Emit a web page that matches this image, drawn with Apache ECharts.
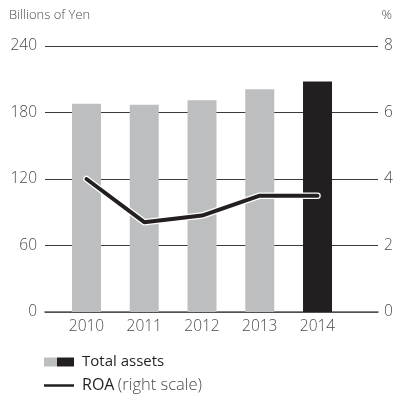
<!DOCTYPE html>
<html>
<head>
<meta charset="utf-8">
<script src="https://cdn.jsdelivr.net/npm/echarts@6/dist/echarts.min.js"></script>
<style>
  html, body { margin: 0; padding: 0; background: #fff; }
  #chart { width: 397px; height: 394px; }
</style>
</head>
<body>
<div id="chart"></div>
<script>
// Fiscal years on the category axis
const years = ['2010', '2011', '2012', '2013', '2014'];
// Total assets, billions of yen (left scale)
const totalAssets = [188, 187, 191, 201, 208];
// Return on assets, % (right scale)
const roa = [4.0, 2.7, 2.9, 3.5, 3.5];
// Axis ranges and tick steps
const leftTicks = [0, 60, 120, 180, 240];
const rightTicks = [0, 2, 4, 6, 8];

const GRAY = '#bcbec0';
const DARK = '#231f20';
const TEXT = '#4a4a4a';
const FONT = '"Open Sans", "Noto Sans", sans-serif';

const chart = echarts.init(document.getElementById('chart'), null, { renderer: 'canvas' });

const tickLabel = { color: TEXT, fontFamily: FONT, fontSize: 15.5, fontWeight: 300 };

chart.setOption({
  animation: false,
  grid: [
    // frame holding both value axes and the horizontal rules
    { left: 45, right: 19, top: 46, bottom: 82 },
    // narrower band where the years, bars and line sit
    { left: 57.6, right: 50.6, top: 46, bottom: 82 }
  ],
  xAxis: [
    {
      type: 'category', gridIndex: 0, data: years,
      axisLine: { show: true, lineStyle: { color: '#5a5a5a', width: 1.6 } },
      axisTick: { show: false }, axisLabel: { show: false }
    },
    {
      type: 'category', gridIndex: 1, data: years,
      axisLine: { show: false }, axisTick: { show: false },
      axisLabel: Object.assign({ margin: 7 }, tickLabel)
    }
  ],
  yAxis: [
    {
      type: 'value', gridIndex: 0, position: 'left',
      min: leftTicks[0], max: leftTicks[leftTicks.length - 1], interval: leftTicks[1] - leftTicks[0],
      axisLine: { show: false }, axisTick: { show: false },
      axisLabel: Object.assign({ margin: 8 }, tickLabel),
      splitLine: { show: true, lineStyle: { color: '#3a3a3a', width: 1 } }
    },
    {
      type: 'value', gridIndex: 0, position: 'right',
      min: rightTicks[0], max: rightTicks[rightTicks.length - 1], interval: rightTicks[1] - rightTicks[0],
      axisLine: { show: false }, axisTick: { show: false },
      axisLabel: Object.assign({ margin: 6 }, tickLabel),
      splitLine: { show: false }
    },
    { type: 'value', gridIndex: 1, min: leftTicks[0], max: leftTicks[leftTicks.length - 1], show: false },
    { type: 'value', gridIndex: 1, min: rightTicks[0], max: rightTicks[rightTicks.length - 1], show: false }
  ],
  series: [
    {
      name: 'Total assets', type: 'bar', xAxisIndex: 1, yAxisIndex: 2,
      barWidth: 29,
      data: totalAssets.map((v, i) => ({
        value: v,
        itemStyle: { color: i === totalAssets.length - 1 ? DARK : GRAY }
      }))
    },
    {
      // white halo under the ROA line
      name: 'ROA halo', type: 'line', xAxisIndex: 1, yAxisIndex: 3,
      data: roa, symbol: 'none', silent: true,
      lineStyle: { color: '#ffffff', width: 6.5, cap: 'round', join: 'round' }
    },
    {
      name: 'ROA', type: 'line', xAxisIndex: 1, yAxisIndex: 3,
      data: roa, symbol: 'none',
      lineStyle: { color: DARK, width: 4, cap: 'round', join: 'round' }
    }
  ],
  graphic: [
    { type: 'text', left: 9, top: 9, style: { text: 'Billions of Yen', fill: TEXT, font: '300 13px ' + FONT } },
    { type: 'text', right: 5, top: 9, style: { text: '%', fill: TEXT, font: '300 13px ' + FONT } },
    // legend
    { type: 'rect', shape: { x: 44, y: 357.5, width: 13, height: 9 }, style: { fill: GRAY } },
    { type: 'rect', shape: { x: 57, y: 357.5, width: 17, height: 9 }, style: { fill: DARK } },
    { type: 'text', x: 82, y: 362, style: { text: 'Total assets', fill: DARK, font: '15px ' + FONT, verticalAlign: 'middle' } },
    { type: 'line', shape: { x1: 44, y1: 385.5, x2: 74, y2: 385.5 }, style: { stroke: DARK, lineWidth: 2.5 } },
    {
      type: 'text', x: 82, y: 385,
      style: {
        text: '{a|ROA} {b|(right scale)}', verticalAlign: 'middle',
        rich: {
          a: { fill: DARK, font: '16px ' + FONT },
          b: { fill: TEXT, font: '300 16.5px ' + FONT }
        }
      }
    }
  ]
});
</script>
</body>
</html>
